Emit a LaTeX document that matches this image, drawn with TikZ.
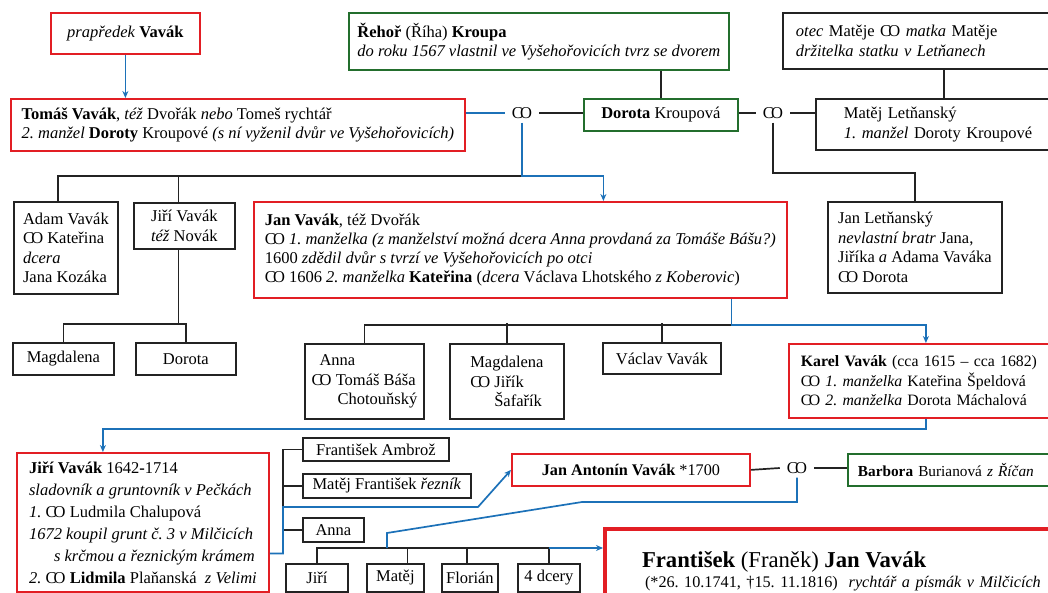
\documentclass[tikz,border=0pt]{standalone}
\usepackage{fontspec}
\setmainfont{Liberation Serif}
\usetikzlibrary{arrows.meta}
\definecolor{vred}{RGB}{226,30,36}
\definecolor{vgreen}{RGB}{35,110,45}
\definecolor{vblue}{RGB}{28,113,184}
\definecolor{vdark}{RGB}{35,35,35}
\newcommand{\snatek}{C\kern-0.17em O}
\frenchspacing
\tikzset{
  box/.style = {draw, line width=1.8pt, anchor=north west, align=left, inner sep=0pt},
  redbox/.style = {box, draw=vred},
  greenbox/.style = {box, draw=vgreen},
  blackbox/.style = {box, draw=vdark},
  sign/.style = {inner xsep=7pt, inner ysep=4pt},
  conn/.style = {line width=1.7pt, vdark},
  bconn/.style = {line width=1.7pt, vblue},
  barrow/.style = {bconn, -{Stealth[length=7pt, width=6pt]}}
}

\begin{document}
\begin{tikzpicture}[x=1pt, y=-1pt, font=\fontsize{16.5}{19.5}\selectfont]
\useasboundingbox (0,0) rectangle (1048,593);
\node[redbox, minimum width=149pt, minimum height=41pt, align=center] (prapredek) at (50,12) {\textit{prapředek} \textbf{Vavák}};
\node[greenbox, minimum width=380pt, minimum height=57pt] (rehor) at (348,12) {\textbf{Řehoř} (Říha) \textbf{Kroupa}\\\textit{do roku 1567 vlastnil ve Vyšehořovicích tvrz se dvorem}};
\node[blackbox, text width=250pt, inner xsep=13pt, minimum height=56pt] (otec) at (782,12) {\textit{otec} Matěje \snatek{} \textit{matka} Matěje\\\textit{držitelka statku v Letňanech}};
\node[redbox, minimum width=454pt, minimum height=52pt] (tomas) at (10,98) {\textbf{Tomáš Vavák}, \textit{též} Dvořák \textit{nebo} Tomeš rychtář\\\textit{2. manžel} \textbf{Doroty} Kroupové \textit{(s ní vyženil dvůr ve Vyšehořovicích)}};
\node[sign] (sn1) at (522,113) {\snatek};
\node[greenbox, minimum width=154pt, minimum height=32pt, align=center] (dorota) at (583,98) {\textbf{Dorota} Kroupová};
\node[sign] (sn2) at (773,113) {\snatek};
\node[blackbox, text width=200pt, inner xsep=28pt, minimum height=51pt] (matej) at (815,98) {Matěj Letňanský\\\textit{1. manžel} Doroty Kroupové};
\node[blackbox, minimum width=104pt, minimum height=92pt] (adam) at (13,201) {Adam Vavák\\\snatek{} Kateřina\\\textit{dcera}\\Jana Kozáka};
\node[blackbox, minimum width=101pt, minimum height=46pt, align=center] (jiri) at (133,202) {Jiří Vavák\\\textit{též} Novák};
\node[redbox, minimum width=533pt, minimum height=96pt, font=\fontsize{16.5}{19}\selectfont] (janv) at (253,201) {\textbf{Jan Vavák}, též Dvořák\\\snatek{} \textit{1. manželka (z manželství možná dcera Anna provdaná za Tomáše Bášu?)}\\1600 \textit{zdědil dvůr s tvrzí ve Vyšehořovicích po otci}\\\snatek{} 1606 \textit{2. manželka} \textbf{Kateřina} (\textit{dcera} Václava Lhotského \textit{z Koberovic})};
\node[blackbox, minimum width=174pt, minimum height=91pt] (janl) at (827,201) {Jan Letňanský\\\textit{nevlastní bratr} Jana,\\Jiříka \textit{a} Adama Vaváka\\\snatek{} Dorota};
\node[blackbox, minimum width=101pt, minimum height=32pt, align=center] (magd1) at (12,342) {Magdalena};
\node[blackbox, minimum width=100pt, minimum height=32pt, align=center] (dorota2) at (135,342) {Dorota};
\node[blackbox, minimum width=119pt, minimum height=75pt] (anna) at (304,343) {\hspace{8pt}Anna\\\snatek{} Tomáš Báša\\\hspace{26pt}Chotouňský};
\node[blackbox, minimum width=114pt, minimum height=75pt] (magd2) at (449,343) {Magdalena\\\snatek{} Jiřík\\\hspace{24pt}Šafařík};
\node[blackbox, minimum width=118pt, minimum height=31pt, align=center] (vaclav) at (602,342) {Václav Vavák};
\node[redbox, text width=260pt, inner xsep=12pt, minimum height=74pt, font=\fontsize{15.8}{19.5}\selectfont] (karel) at (788,343) {\textbf{Karel Vavák} (cca 1615 -- cca 1682)\\\snatek{} \textit{1. manželka} Kateřina Špeldová\\\snatek{} \textit{2. manželka} Dorota Máchalová};
\node[redbox, minimum width=252pt, minimum height=139pt, font=\fontsize{16.5}{22}\selectfont] (jiri2) at (16,452) {\textbf{Jiří Vavák} 1642\textbf{-}1714\\\textit{sladovník a gruntovník v Pečkách}\\\textit{1.} \snatek{} Ludmila Chalupová\\\textit{1672 koupil grunt č. 3 v Milčicích}\\\hspace{25pt}\textit{s krčmou a řeznickým krámem}\\\textit{2.} \snatek{} \textbf{Lidmila} Plaňanská \ \textit{z Velimi}};
\node[blackbox, minimum width=146pt, minimum height=23pt, align=center] (ambroz) at (302,437) {František Ambrož};
\node[blackbox, minimum width=168pt, minimum height=24pt, align=center] (matejf) at (302,473) {Matěj František \textit{řezník}};
\node[blackbox, minimum width=61pt, minimum height=24pt, align=center] (anna2) at (302,517) {Anna};
\node[redbox, minimum width=238pt, minimum height=32pt, align=center, font=\fontsize{16.2}{18}\selectfont] (janant) at (511,453) {\textbf{Jan Antonín Vavák} *1700};
\node[sign] (sn3) at (797,468) {\snatek};
\node[greenbox, text width=200pt, inner xsep=10pt, minimum height=32pt, font=\fontsize{15.3}{18}\selectfont] (barbora) at (847,453) {\textbf{Barbora} Burianová \textit{z Říčan}};
\node[blackbox, minimum width=62pt, minimum height=28pt, align=center] (jiri3) at (285,563) {Jiří};
\node[blackbox, minimum width=57pt, minimum height=28pt, align=center] (matej3) at (366,563) {Matěj};
\node[blackbox, minimum width=56pt, minimum height=28pt, align=center] (florian) at (441,563) {Florián};
\node[blackbox, minimum width=62pt, minimum height=28pt, align=center] (dcery) at (517,563) {4 dcery};
\node[redbox, line width=4pt, text width=440pt, inner xsep=37pt, minimum height=84pt] (frantisek) at (603,527) {\fontsize{22.7}{25}\selectfont\textbf{František} (Franěk) \textbf{Jan Vavák}\\\fontsize{16.2}{18}\selectfont\hspace{3pt}(*26. 10.1741, †15. 11.1816) \ \textit{rychtář a písmák v Milčicích}};
\coordinate (k1) at (522,176);
\coordinate (k5) at (387,548);
\draw[barrow] (prapredek.south) -- (prapredek.south |- tomas.north);
\draw[bconn] (tomas.east |- sn1.west) -- (sn1.west);
\draw[conn] (sn1.east) -- (sn1.east -| dorota.west);
\draw[conn] (dorota.east |- sn2.west) -- (sn2.west);
\draw[conn] (sn2.east) -- (sn2.east -| matej.west);
\draw[conn] (dorota.north) -- (dorota.north |- rehor.south);
\draw[conn] (matej.north) -- (matej.north |- otec.south);
\draw[conn] ([xshift=-8pt]adam.north) |- (k1);
\draw[conn] ([xshift=-6pt]jiri.north) -- ([xshift=-6pt]jiri.north |- k1);
\draw[barrow] (sn1.south) -- (k1) -| ([xshift=83pt]janv.north);
\draw[conn] (sn2.south) |- ([yshift=28pt]janl.north) -- (janl.north);
\draw[conn] ([xshift=-6pt]jiri.south) -- ++(0,74) coordinate (k2);
\draw[conn] (magd1.north) |- (k2);
\draw[conn] (dorota2.north) |- (k2);
\draw[conn] (anna.north) |- ([xshift=211pt,yshift=-26pt]janv.south);
\draw[conn] (magd2.north) -- (magd2.north |- anna.north) -- ++(0,-20);
\draw[conn] (vaclav.north) -- ++(0,-19);
\draw[barrow] ([xshift=211pt]janv.south) -- ++(0,26) -| ([xshift=-5pt]karel.north);
\draw[barrow] ([xshift=-5pt]karel.south) -- ++(0,10) -| ([xshift=-40pt]jiri2.north);
\draw[conn] (ambroz.west) -- ++(-19,0) coordinate (k4) |- (anna2.west);
\draw[conn] (matejf.west) -- (matejf.west -| k4);
\draw[barrow] ([yshift=-31pt]jiri2.east) -| (k4 |- 0,507) -- (478,507) -- (janant.west);
\draw[conn] (janant.east) -- (sn3.west);
\draw[conn] (sn3.east) -- (sn3.east -| barbora.west);
\draw[conn] (jiri3.north) |- (dcery.north |- k5) -- (dcery.north);
\draw[conn] ([xshift=12pt]matej3.north) -- ([xshift=12pt]matej3.north |- k5);
\draw[conn] ([xshift=-3pt]florian.north) -- ([xshift=-3pt]florian.north |- k5);
\draw[bconn] (sn3.south) |- (582,502) -- (387,533) -- (k5);
\draw[barrow] (dcery.north |- k5) -- (frantisek.west |- k5);
\end{tikzpicture}
\end{document}
